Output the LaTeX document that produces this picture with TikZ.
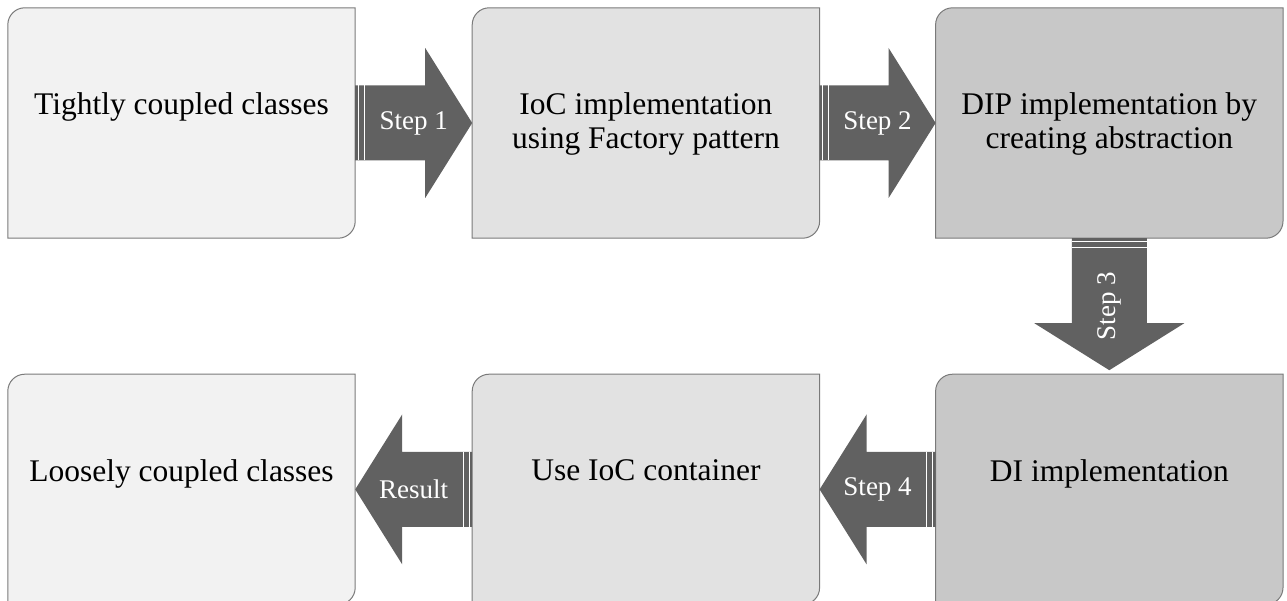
\documentclass[tikz,border=0pt]{standalone}
\usepackage{fontspec}
\setmainfont{Liberation Serif}
\usetikzlibrary{positioning,calc}

\definecolor{fillA}{HTML}{F2F2F2}
\definecolor{fillB}{HTML}{E2E2E2}
\definecolor{fillC}{HTML}{C8C8C8}
\definecolor{arrowgray}{HTML}{616161}
\definecolor{edgegray}{HTML}{7A7A7A}

\tikzset{
  card/.style={minimum width=347pt, minimum height=230pt, inner sep=0pt},
  cardline/.style={draw=edgegray, line width=1pt},
  cardtext/.style={inner sep=0pt, align=center, font=\fontsize{31.5}{34}\selectfont},
  steplabel/.style={text=white, inner sep=0pt, font=\fontsize{27}{30}\selectfont},
  stripe/.style={draw=white, line width=0.8pt},
  pics/steparrow/.style={code={
    \fill[arrowgray] (0,37.5) -- (#1,37.5) -- (#1,75) -- (#1+47,0) -- (#1,-75) -- (#1,-37.5) -- (0,-37.5) -- cycle;
    \draw[stripe] (3,37.5) -- (3,-37.5) (9,37.5) -- (9,-37.5);
  }}
}

\begin{document}
\begin{tikzpicture}[x=1pt, y=1pt]
\useasboundingbox (0,0) rectangle (1287,-601);
% boxes
\node[card] (tight) at (181.5,-123) {};
\node[card, right=117pt of tight] (ioc) {};
\node[card, right=116pt of ioc] (dip) {};
\node[card, below=136pt of dip] (di) {};
\node[card, left=116pt of di] (cont) {};
\node[card, left=117pt of cont] (loose) {};
\foreach \n/\c in {tight/fillA, ioc/fillB, dip/fillC, loose/fillA, cont/fillB, di/fillC}
  \draw[cardline, fill=\c] ([yshift=-17pt]\n.north west) arc[start angle=180, end angle=90, radius=17pt]
    -- (\n.north east) -- ([yshift=17pt]\n.south east) arc[start angle=0, end angle=-90, radius=17pt]
    -- (\n.south west) -- cycle;
% texts
\node[cardtext, below=85pt of tight.north] (tighttext) {Tightly coupled classes};
\node[cardtext, below=85pt of ioc.north] (ioctext) {IoC implementation\\using Factory pattern};
\node[cardtext, below=85pt of dip.north] (diptext) {DIP implementation by\\creating abstraction};
\node[cardtext, below=85pt of di.north] (ditext) {DI implementation};
\node[cardtext, below=85pt of cont.north] (conttext) {Use IoC container};
\node[cardtext, below=85pt of loose.north] (loosetext) {Loosely coupled classes};
% arrows
\pic at (tight.east) {steparrow=70};
\pic at (ioc.east) {steparrow=69};
\pic[rotate=-90] at (dip.south) {steparrow=85};
\pic[rotate=180] at (di.west) {steparrow=69};
\pic[rotate=180] at (cont.west) {steparrow=70};
\node[steplabel] (step1) at ($(tight.east)!0.5!(ioc.west)$) {Step 1};
\node[steplabel] (step2) at ($(ioc.east)!0.5!(dip.west)$) {Step 2};
\node[steplabel, rotate=90] (step3) at ($(dip.south)!0.5!(di.north)$) {Step 3};
\node[steplabel] (step4) at ($(cont.east)!0.5!(di.west)$) {Step 4};
\node[steplabel] (result) at ($(loose.east)!0.5!(cont.west)$) {Result};
\end{tikzpicture}
\end{document}
